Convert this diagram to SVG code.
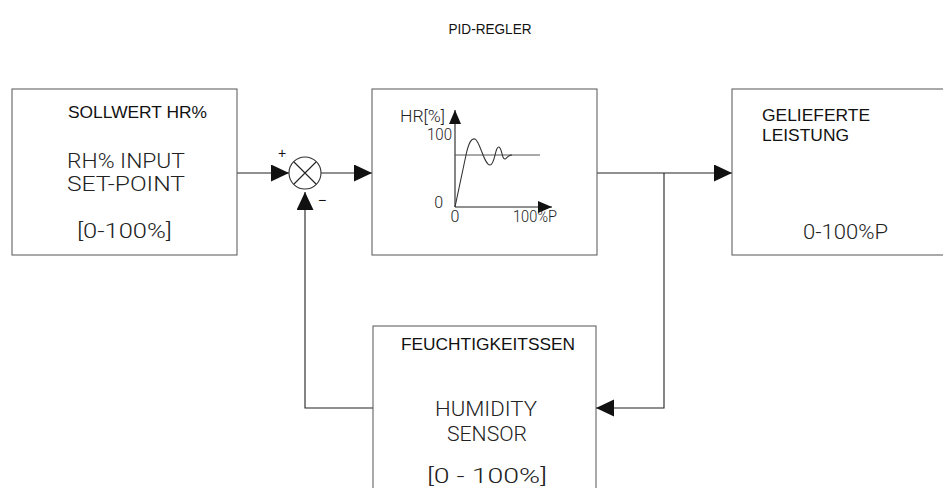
<svg xmlns="http://www.w3.org/2000/svg" width="943" height="488" viewBox="0 0 943 488">
<defs>
<style>
.box{fill:#fff;stroke:#555;stroke-width:1}
.ln{fill:none;stroke:#222;stroke-width:1.1}
.hd{font-family:"Liberation Sans",Arial,sans-serif;font-size:17px;fill:#111}
.ttl{font-family:"Liberation Sans",Arial,sans-serif;font-size:14px;fill:#111}
.cad{font-family:Roboto,"Open Sans",sans-serif;font-weight:300;font-size:21px;fill:#222}
.sm{font-family:Roboto,"Open Sans",sans-serif;font-weight:300;font-size:16px;fill:#222}
</style>
<marker id="ah" markerUnits="userSpaceOnUse" markerWidth="19" markerHeight="18" refX="18" refY="8.5" orient="auto">
<path d="M0,0 L18,8.5 L0,17 z" fill="#111"/>
</marker>
<marker id="sah" markerUnits="userSpaceOnUse" markerWidth="15" markerHeight="13" refX="14" refY="6" orient="auto">
<path d="M0,0 L14,6 L0,12 z" fill="#111"/>
</marker>
</defs>
<rect width="943" height="488" fill="#fff"/>
<text class="ttl" x="490" y="34" text-anchor="middle" textLength="83" lengthAdjust="spacingAndGlyphs">PID-REGLER</text>

<g id="connectors">
<path class="ln" d="M237,173 H289" marker-end="url(#ah)"/>
<path class="ln" d="M321,173 H372" marker-end="url(#ah)"/>
<path class="ln" d="M597,173 H732" marker-end="url(#ah)"/>
<path class="ln" d="M664,173 V408 H596" marker-end="url(#ah)"/>
<path class="ln" d="M373,408 H305 V192" marker-end="url(#ah)"/>
</g>

<g id="sollwert">
<rect class="box" x="12" y="89" width="225" height="166"/>
<text class="hd" x="68" y="118" textLength="139" lengthAdjust="spacingAndGlyphs">SOLLWERT HR%</text>
<text class="cad" x="67" y="168" textLength="118" lengthAdjust="spacingAndGlyphs">RH% INPUT</text>
<text class="cad" x="67" y="191" textLength="118" lengthAdjust="spacingAndGlyphs">SET-POINT</text>
<text class="cad" x="77" y="238" textLength="95" lengthAdjust="spacingAndGlyphs">[0-100%]</text>
</g>

<g id="summing">
<circle cx="305" cy="173" r="16" fill="#fff" stroke="#333" stroke-width="1.1"/>
<path class="ln" d="M294,162 L316,184 M316,162 L294,184"/>
<text class="ttl" x="282" y="158" text-anchor="middle">+</text>
<text class="ttl" x="322" y="205" text-anchor="middle">−</text>
</g>

<g id="pid">
<rect class="box" x="372" y="89" width="225" height="166"/>
<path class="ln" d="M455,207 V110" marker-end="url(#sah)"/>
<path class="ln" d="M455,207 H552" marker-end="url(#sah)"/>
<path d="M455,155 H540" fill="none" stroke="#555" stroke-width="1.1"/>
<path d="M455,207 L466,155 C469,141 472,138 475,139 C480,141 484,165 490,165 C495,165 495,146 499,147 C502,148 502,160 505,159 C507,158 508,155 512,155" fill="none" stroke="#333" stroke-width="1.1"/>
<text class="sm" x="400" y="122" textLength="45" lengthAdjust="spacingAndGlyphs">HR[%]</text>
<text class="sm" x="452" y="140" text-anchor="end" textLength="25" lengthAdjust="spacingAndGlyphs">100</text>
<text class="sm" x="443" y="208" text-anchor="end">0</text>
<text class="sm" x="455" y="222" text-anchor="middle">0</text>
<text class="sm" x="513" y="222" textLength="44" lengthAdjust="spacingAndGlyphs">100%P</text>
</g>

<g id="leistung">
<rect class="box" x="732" y="89" width="220" height="166"/>
<text class="hd" x="762" y="121" textLength="108" lengthAdjust="spacingAndGlyphs">GELIEFERTE</text>
<text class="hd" x="762" y="141" textLength="87" lengthAdjust="spacingAndGlyphs">LEISTUNG</text>
<text class="cad" x="803" y="239" textLength="85" lengthAdjust="spacingAndGlyphs">0-100%P</text>
</g>

<g id="sensor">
<rect class="box" x="373" y="326" width="223" height="180"/>
<text class="hd" x="401" y="350" textLength="174" lengthAdjust="spacingAndGlyphs">FEUCHTIGKEITSSEN</text>
<text class="cad" x="435" y="416" textLength="102" lengthAdjust="spacingAndGlyphs">HUMIDITY</text>
<text class="cad" x="447" y="441" textLength="80" lengthAdjust="spacingAndGlyphs">SENSOR</text>
<text class="cad" x="427" y="483" font-size="18" textLength="120" lengthAdjust="spacingAndGlyphs">[0 - 100%]</text>
</g>
</svg>
